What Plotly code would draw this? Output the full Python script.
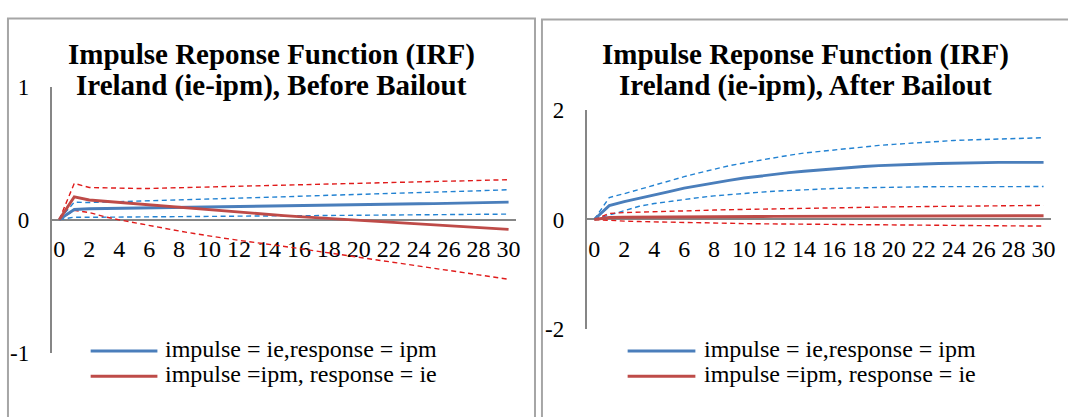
import plotly.graph_objects as go

# ---------------- data ----------------
periods = list(range(31))
tick_vals = list(range(0, 31, 2))
tick_text = [str(v) for v in tick_vals]

panel_titles = [
    ["Impulse Reponse Function (IRF)", "Ireland (ie-ipm), Before Bailout"],
    ["Impulse Reponse Function (IRF)", "Ireland (ie-ipm), After Bailout"],
]
legend_labels = ["impulse = ie,response = ipm", "impulse =ipm, response = ie"]

# Before bailout (left panel)
before_ie_ipm = [0, 0.076, 0.081, 0.083, 0.084, 0.086, 0.088, 0.090, 0.091, 0.093, 0.095,
                 0.097, 0.098, 0.100, 0.102, 0.104, 0.105, 0.107, 0.109, 0.110, 0.112,
                 0.114, 0.115, 0.117, 0.119, 0.120, 0.122, 0.124, 0.126, 0.128, 0.131]
before_ie_ipm_upper = [0, 0.131, 0.128, 0.131, 0.134, 0.137, 0.141, 0.144, 0.148, 0.151, 0.155,
                       0.158, 0.162, 0.165, 0.168, 0.172, 0.175, 0.179, 0.182, 0.185, 0.189,
                       0.192, 0.195, 0.199, 0.202, 0.205, 0.209, 0.212, 0.216, 0.220, 0.225]
before_ie_ipm_lower = [0, 0.018, 0.017, 0.018, 0.019, 0.020, 0.021, 0.022, 0.023, 0.024, 0.025,
                       0.026, 0.027, 0.028, 0.029, 0.030, 0.031, 0.032, 0.033, 0.033, 0.034,
                       0.035, 0.036, 0.036, 0.037, 0.038, 0.038, 0.039, 0.040, 0.040, 0.041]
before_ipm_ie = [0, 0.170, 0.147, 0.138, 0.128, 0.118, 0.108, 0.098, 0.088, 0.079, 0.070,
                 0.062, 0.053, 0.045, 0.037, 0.030, 0.022, 0.015, 0.008, 0.001, -0.006,
                 -0.013, -0.020, -0.027, -0.033, -0.040, -0.046, -0.053, -0.059, -0.066, -0.074]
before_ipm_ie_upper = [0, 0.272, 0.241, 0.237, 0.235, 0.234, 0.234, 0.237, 0.240, 0.242, 0.245,
                       0.248, 0.251, 0.253, 0.256, 0.259, 0.261, 0.264, 0.267, 0.270, 0.272,
                       0.275, 0.278, 0.280, 0.283, 0.286, 0.289, 0.291, 0.294, 0.297, 0.300]
before_ipm_ie_lower = [0, 0.069, 0.053, 0.022, -0.002, -0.024, -0.045, -0.066, -0.086, -0.105, -0.124,
                       -0.140, -0.156, -0.170, -0.184, -0.200, -0.217, -0.234, -0.250, -0.267, -0.283,
                       -0.300, -0.316, -0.333, -0.350, -0.366, -0.383, -0.399, -0.416, -0.432, -0.449]

# After bailout (right panel)
after_ie_ipm = [0, 0.252, 0.326, 0.385, 0.440, 0.508, 0.572, 0.622, 0.669, 0.713, 0.755,
                0.790, 0.823, 0.853, 0.880, 0.904, 0.926, 0.947, 0.966, 0.981, 0.995,
                1.004, 1.012, 1.021, 1.029, 1.034, 1.038, 1.040, 1.041, 1.041, 1.041]
after_ie_ipm_upper = [0, 0.400, 0.470, 0.550, 0.630, 0.710, 0.780, 0.850, 0.920, 0.980, 1.030,
                      1.080, 1.130, 1.170, 1.210, 1.240, 1.270, 1.300, 1.330, 1.350, 1.370,
                      1.390, 1.410, 1.420, 1.440, 1.450, 1.460, 1.470, 1.480, 1.485, 1.490]
after_ie_ipm_lower = [0, 0.080, 0.170, 0.240, 0.290, 0.330, 0.370, 0.400, 0.430, 0.455, 0.475,
                      0.495, 0.515, 0.530, 0.545, 0.555, 0.565, 0.573, 0.580, 0.585, 0.590,
                      0.593, 0.596, 0.598, 0.600, 0.601, 0.602, 0.602, 0.602, 0.601, 0.600]
after_ipm_ie = [0, 0.035, 0.040, 0.043, 0.045, 0.047, 0.049, 0.050, 0.052, 0.053, 0.054,
                0.055, 0.056, 0.057, 0.058, 0.059, 0.060, 0.061, 0.062, 0.063, 0.063,
                0.064, 0.065, 0.065, 0.066, 0.066, 0.067, 0.067, 0.068, 0.068, 0.069]
after_ipm_ie_upper = [0, 0.110, 0.125, 0.135, 0.145, 0.153, 0.160, 0.166, 0.172, 0.178, 0.184,
                      0.190, 0.195, 0.200, 0.205, 0.210, 0.214, 0.218, 0.222, 0.226, 0.230,
                      0.233, 0.236, 0.239, 0.242, 0.245, 0.248, 0.250, 0.252, 0.255, 0.257]
after_ipm_ie_lower = [0, -0.020, -0.030, -0.038, -0.045, -0.051, -0.057, -0.062, -0.067, -0.071, -0.075,
                      -0.079, -0.082, -0.085, -0.088, -0.091, -0.094, -0.096, -0.099, -0.101, -0.103,
                      -0.105, -0.107, -0.109, -0.110, -0.112, -0.114, -0.115, -0.117, -0.118, -0.120]

# ---------------- styling ----------------
W, H = 1068, 417
FONT = "Times New Roman, Liberation Serif, Tinos, serif"
BLUE = "#4a7ebb"
RED = "#be4b48"
BLUE_D = "#2282d2"
RED_D = "#e01b1b"
AXIS = "#868686"
FRAME = "#a6a6a6"


def px(x):
    return x / W


def py(y):
    return 1 - y / H


fig = go.Figure()

panels = [
    dict(xa="x", ya="y",
         series=[(before_ie_ipm_upper, BLUE_D, "dash"), (before_ie_ipm_lower, BLUE_D, "dash"),
                 (before_ipm_ie_upper, RED_D, "dash"), (before_ipm_ie_lower, RED_D, "dash"),
                 (before_ie_ipm, BLUE, "solid"), (before_ipm_ie, RED, "solid")]),
    dict(xa="x2", ya="y2",
         series=[(after_ie_ipm_upper, BLUE_D, "dash"), (after_ie_ipm_lower, BLUE_D, "dash"),
                 (after_ipm_ie_upper, RED_D, "dash"), (after_ipm_ie_lower, RED_D, "dash"),
                 (after_ie_ipm, BLUE, "solid"), (after_ipm_ie, RED, "solid")]),
]

for p in panels:
    for vals, col, dash in p["series"]:
        fig.add_trace(go.Scatter(
            x=periods, y=vals, mode="lines", xaxis=p["xa"], yaxis=p["ya"],
            line=dict(color=col, width=2.9 if dash == "solid" else 1.4,
                      dash="solid" if dash == "solid" else "5px,3.5px"),
            showlegend=False, hoverinfo="skip"))

# axes geometry (pixels)
left = dict(x0=52, x1=518, ytop=79.3, ybot=362.3, yr=[-1, 1], yt=[-1, 0, 1])
right = dict(x0=589, x1=1055, ytop=104, ybot=337.4, yr=[-2, 2], yt=[-2, 0, 2])


def xaxis_cfg(g):
    d0, d1 = py(g["ybot"]), py(g["ytop"])
    return dict(domain=[px(g["x0"]), px(g["x1"])], anchor="free", position=(d0 + d1) / 2,
                range=[-0.5, 30.5], showgrid=False, zeroline=False, showline=True,
                linecolor=AXIS, linewidth=2, ticks="", tickvals=tick_vals, ticktext=tick_text,
                tickfont=dict(family=FONT, size=24, color="black"), ticklabelstandoff=8,
                layer="below traces", fixedrange=True)


def yaxis_cfg(g, anchor):
    return dict(domain=[py(g["ybot"]), py(g["ytop"])], anchor=anchor, range=g["yr"],
                showgrid=False, zeroline=False, showline=True, linecolor=AXIS, linewidth=2,
                ticks="", tickvals=g["yt"], ticktext=[str(v) for v in g["yt"]],
                tickfont=dict(family=FONT, size=23, color="black"), ticklabelstandoff=16,
                layer="below traces", fixedrange=True)


shapes = []
annotations = []

# panel frames
for fx0, fx1, fy in [(8, 537, 7), (544, 1075, 8)]:
    shapes.append(dict(type="rect", xref="paper", yref="paper", x0=px(fx0), x1=px(fx1),
                       y0=py(440), y1=py(fy), line=dict(color=FRAME, width=2),
                       fillcolor="rgba(0,0,0,0)", layer="below"))

# titles
for (l1, l2), cx in zip(panel_titles, [272.5, 809]):
    for txt, cy in [(l1, 45.5), (l2, 77.8)]:
        annotations.append(dict(text="<b>%s</b>" % txt, xref="paper", yref="paper",
                                x=px(cx), y=py(cy), xanchor="center", yanchor="middle",
                                showarrow=False, font=dict(family=FONT, size=29, color="black")))

# legends
for kx0, kx1, tx in [(91, 158, 164), (630, 698, 705)]:
    for lab, col, ky, ty in [(legend_labels[0], BLUE, 360.5, 358.6),
                             (legend_labels[1], RED, 387.5, 385.4)]:
        shapes.append(dict(type="line", xref="paper", yref="paper", x0=px(kx0), x1=px(kx1),
                           y0=py(ky), y1=py(ky), line=dict(color=col, width=3)))
        annotations.append(dict(text=lab, xref="paper", yref="paper", x=px(tx), y=py(ty),
                                xanchor="left", yanchor="middle", showarrow=False,
                                font=dict(family=FONT, size=24, color="black")))

fig.update_layout(
    width=W, height=H, margin=dict(l=0, r=0, t=0, b=0),
    paper_bgcolor="white", plot_bgcolor="rgba(0,0,0,0)",
    xaxis=xaxis_cfg(left), yaxis=yaxis_cfg(left, "x"),
    xaxis2=xaxis_cfg(right), yaxis2=yaxis_cfg(right, "x2"),
    shapes=shapes, annotations=annotations, showlegend=False,
)

fig.write_html(
    "out.html",
    config={"displayModeBar": False, "staticPlot": True},
    post_script="document.body.style.margin='0';document.body.style.overflow='hidden';",
)
